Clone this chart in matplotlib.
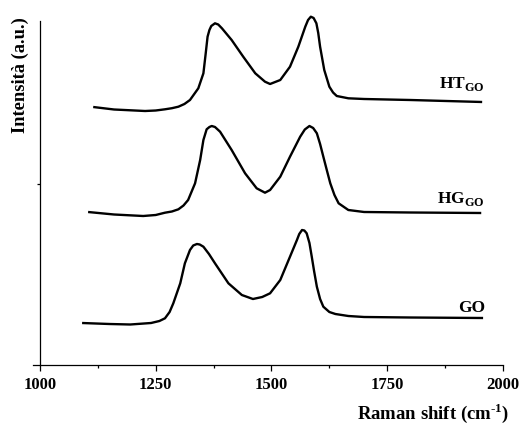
import numpy as np
import matplotlib
matplotlib.use("Agg")
import matplotlib.pyplot as plt
from matplotlib.ticker import MultipleLocator

plt.rcParams['font.family'] = ['Liberation Serif', 'DejaVu Serif']
plt.rcParams['font.weight'] = 'bold'
plt.rcParams['mathtext.fontset'] = 'custom'
plt.rcParams['mathtext.rm'] = 'Liberation Serif:bold'
plt.rcParams['mathtext.bf'] = 'Liberation Serif:bold'

# Raman spectra (shift in cm-1, intensity in a.u., already offset)
go_x = [1091, 1150, 1195, 1240, 1258, 1270, 1280, 1288, 1303, 1313, 1324, 1331, 1339, 1345,
        1353, 1365, 1378, 1407, 1436, 1460, 1480, 1497, 1519, 1540, 1555, 1560, 1566, 1571,
        1576, 1582, 1587, 1592, 1598, 1605, 1612, 1625, 1638, 1666, 1700, 1800, 1957]
go_y = [42, 41, 40.5, 42, 44, 46.7, 53, 61.7, 81.7, 101.7, 115, 119.5, 121, 120.5,
        118.3, 111, 101.7, 81.7, 70, 66, 68, 71.7, 85, 108.3, 125, 131, 135, 134.5,
        131.7, 122, 108.3, 94, 78.3, 66, 58.3, 53, 51, 49, 48, 47.5, 47]

hg_x = [1104, 1160, 1223, 1250, 1270, 1285, 1299, 1310, 1320, 1335, 1346, 1353, 1360, 1366,
        1371, 1378, 1389, 1414, 1443, 1468, 1486, 1497, 1519, 1540, 1562, 1572, 1582, 1590,
        1598, 1605, 1612, 1620, 1627, 1636, 1645, 1666, 1700, 1800, 1953]
hg_y = [153, 150.5, 149, 150, 152.3, 153.5, 155.7, 159.5, 165, 181.7, 205, 225, 235.7, 238,
        239, 238, 233.3, 215, 191.7, 176.7, 172.3, 175, 188.3, 208.3, 228.3, 235.5, 239, 237,
        231.7, 221, 208.3, 194, 181.7, 170, 161.7, 155, 153, 152.5, 152]

ht_x = [1115, 1160, 1227, 1250, 1270, 1285, 1299, 1312, 1324, 1342, 1353, 1358, 1362, 1366,
        1370, 1378, 1385, 1393, 1414, 1439, 1465, 1486, 1497, 1519, 1540, 1558, 1573, 1579,
        1585, 1591, 1597, 1601, 1605, 1614, 1625, 1633, 1641, 1666, 1700, 1800, 1955]
ht_y = [258, 255.5, 254, 254.5, 255.7, 256.8, 258.3, 261, 265, 276.7, 291.7, 311.7, 328.3, 335,
        339, 341.7, 340.5, 336.7, 325, 308.3, 291.7, 283.3, 281, 285, 298.3, 318.3, 338.3, 345,
        348.3, 347, 341.7, 332, 318.3, 295, 278.3, 272.5, 269, 266.7, 266, 265, 263]

labels = [r'HT$_{\mathbf{GO}}$', r'HG$_{\mathbf{GO}}$', 'GO']
label_x = 1961
label_y = [277, 162, 53]

fig = plt.figure(figsize=(5.19, 4.25), dpi=100)
ax = fig.add_axes([33 / 519, 60 / 425, 470 / 519, 344.3 / 425])

for xs, ys in [(go_x, go_y), (hg_x, hg_y), (ht_x, ht_y)]:
    ax.plot(xs, ys, color='black', lw=1.7, clip_on=False,
            solid_joinstyle='round', solid_capstyle='butt')

for lab, ly in zip(labels, label_y):
    ax.text(label_x, ly, lab, ha='right', va='baseline', fontsize=12.5, fontweight='bold')

ax.set_xlim(985, 2000)
ax.set_ylim(0, 344.3)
ax.spines['left'].set_position(('data', 1000))
ax.spines['top'].set_visible(False)
ax.spines['right'].set_visible(False)
for s in ['left', 'bottom']:
    ax.spines[s].set_linewidth(0.9)

ax.xaxis.set_major_locator(MultipleLocator(250))
ax.xaxis.set_minor_locator(MultipleLocator(125))
ax.set_yticks([181])
ax.set_yticklabels([])
ax.tick_params(axis='x', which='major', length=4.5, width=0.9, pad=4, labelsize=12)
ax.tick_params(axis='x', which='minor', length=2.5, width=0.9)
ax.tick_params(axis='y', which='major', length=2.5, width=0.9)
for t in ax.get_xticklabels():
    t.set_fontweight('bold')

fig.text(509 / 519, 1 - 419 / 425, 'Raman shift (cm$^{\\mathbf{\u2010}1}$)', ha='right', va='baseline',
         fontsize=13.5, fontweight='bold')
fig.text(20 / 519, 1 - 75.5 / 425, 'Intensità (a.u.)', rotation=90, ha='center', va='center',
         fontsize=13.3, fontweight='bold')

fig.savefig('out.png', dpi=100)
